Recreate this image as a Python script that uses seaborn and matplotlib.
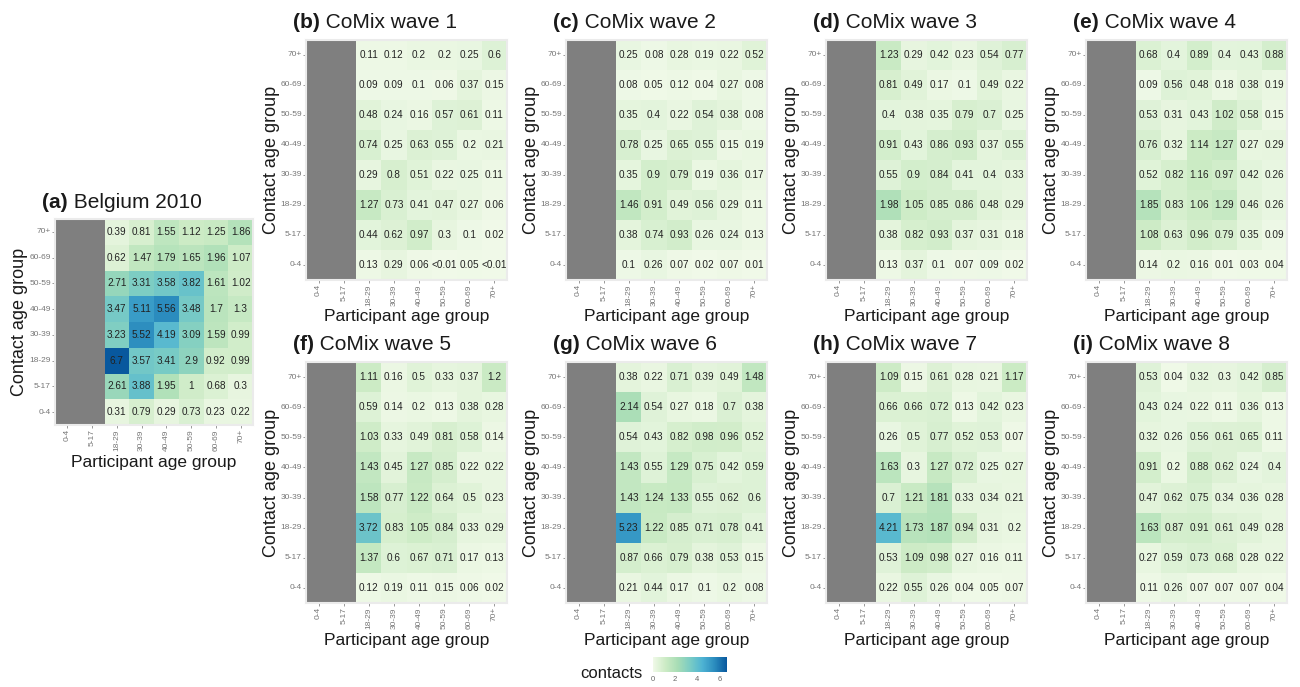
import numpy as np
import pandas as pd
import seaborn as sns
import matplotlib.pyplot as plt
import matplotlib.transforms as mtransforms
from matplotlib.colors import LinearSegmentedColormap

sns.set_theme(style="white")
plt.rcParams['font.family'] = ['Liberation Sans', 'DejaVu Sans']

# age groups (contact rows are listed top to bottom as drawn)
participant_groups = ["0-4", "5-17", "18-29", "30-39", "40-49", "50-59", "60-69", "70+"]
contact_groups = ["70+", "60-69", "50-59", "40-49", "30-39", "18-29", "5-17", "0-4"]

# mean contacts, participant columns 18-29 .. 70+ (0-4 and 5-17 were not surveyed)
# 0.0 stands for the cells shown as "<0.01"
belgium_2010 = [[0.39, 0.81, 1.55, 1.12, 1.25, 1.86],
                [0.62, 1.47, 1.79, 1.65, 1.96, 1.07],
                [2.71, 3.31, 3.58, 3.82, 1.61, 1.02],
                [3.47, 5.11, 5.56, 3.48, 1.7, 1.3],
                [3.23, 5.52, 4.19, 3.09, 1.59, 0.99],
                [6.7, 3.57, 3.41, 2.9, 0.92, 0.99],
                [2.61, 3.88, 1.95, 1, 0.68, 0.3],
                [0.31, 0.79, 0.29, 0.73, 0.23, 0.22]]

wave_1 = [[0.11, 0.12, 0.2, 0.2, 0.25, 0.6],
          [0.09, 0.09, 0.1, 0.06, 0.37, 0.15],
          [0.48, 0.24, 0.16, 0.57, 0.61, 0.11],
          [0.74, 0.25, 0.63, 0.55, 0.2, 0.21],
          [0.29, 0.8, 0.51, 0.22, 0.25, 0.11],
          [1.27, 0.73, 0.41, 0.47, 0.27, 0.06],
          [0.44, 0.62, 0.97, 0.3, 0.1, 0.02],
          [0.13, 0.29, 0.06, 0.0, 0.05, 0.0]]

wave_2 = [[0.25, 0.08, 0.28, 0.19, 0.22, 0.52],
          [0.08, 0.05, 0.12, 0.04, 0.27, 0.08],
          [0.35, 0.4, 0.22, 0.54, 0.38, 0.08],
          [0.78, 0.25, 0.65, 0.55, 0.15, 0.19],
          [0.35, 0.9, 0.79, 0.19, 0.36, 0.17],
          [1.46, 0.91, 0.49, 0.56, 0.29, 0.11],
          [0.38, 0.74, 0.93, 0.26, 0.24, 0.13],
          [0.1, 0.26, 0.07, 0.02, 0.07, 0.01]]

wave_3 = [[1.23, 0.29, 0.42, 0.23, 0.54, 0.77],
          [0.81, 0.49, 0.17, 0.1, 0.49, 0.22],
          [0.4, 0.38, 0.35, 0.79, 0.7, 0.25],
          [0.91, 0.43, 0.86, 0.93, 0.37, 0.55],
          [0.55, 0.9, 0.84, 0.41, 0.4, 0.33],
          [1.98, 1.05, 0.85, 0.86, 0.48, 0.29],
          [0.38, 0.82, 0.93, 0.37, 0.31, 0.18],
          [0.13, 0.37, 0.1, 0.07, 0.09, 0.02]]

wave_4 = [[0.68, 0.4, 0.89, 0.4, 0.43, 0.88],
          [0.09, 0.56, 0.48, 0.18, 0.38, 0.19],
          [0.53, 0.31, 0.43, 1.02, 0.58, 0.15],
          [0.76, 0.32, 1.14, 1.27, 0.27, 0.29],
          [0.52, 0.82, 1.16, 0.97, 0.42, 0.26],
          [1.85, 0.83, 1.06, 1.29, 0.46, 0.26],
          [1.08, 0.63, 0.96, 0.79, 0.35, 0.09],
          [0.14, 0.2, 0.16, 0.01, 0.03, 0.04]]

wave_5 = [[1.11, 0.16, 0.5, 0.33, 0.37, 1.2],
          [0.59, 0.14, 0.2, 0.13, 0.38, 0.28],
          [1.03, 0.33, 0.49, 0.81, 0.58, 0.14],
          [1.43, 0.45, 1.27, 0.85, 0.22, 0.22],
          [1.58, 0.77, 1.22, 0.64, 0.5, 0.23],
          [3.72, 0.83, 1.05, 0.84, 0.33, 0.29],
          [1.37, 0.6, 0.67, 0.71, 0.17, 0.13],
          [0.12, 0.19, 0.11, 0.15, 0.06, 0.02]]

wave_6 = [[0.38, 0.22, 0.71, 0.39, 0.49, 1.48],
          [2.14, 0.54, 0.27, 0.18, 0.7, 0.38],
          [0.54, 0.43, 0.82, 0.98, 0.96, 0.52],
          [1.43, 0.55, 1.29, 0.75, 0.42, 0.59],
          [1.43, 1.24, 1.33, 0.55, 0.62, 0.6],
          [5.23, 1.22, 0.85, 0.71, 0.78, 0.41],
          [0.87, 0.66, 0.79, 0.38, 0.53, 0.15],
          [0.21, 0.44, 0.17, 0.1, 0.2, 0.08]]

wave_7 = [[1.09, 0.15, 0.61, 0.28, 0.21, 1.17],
          [0.66, 0.66, 0.72, 0.13, 0.42, 0.23],
          [0.26, 0.5, 0.77, 0.52, 0.53, 0.07],
          [1.63, 0.3, 1.27, 0.72, 0.25, 0.27],
          [0.7, 1.21, 1.81, 0.33, 0.34, 0.21],
          [4.21, 1.73, 1.87, 0.94, 0.31, 0.2],
          [0.53, 1.09, 0.98, 0.27, 0.16, 0.11],
          [0.22, 0.55, 0.26, 0.04, 0.05, 0.07]]

wave_8 = [[0.53, 0.04, 0.32, 0.3, 0.42, 0.85],
          [0.43, 0.24, 0.22, 0.11, 0.36, 0.13],
          [0.32, 0.26, 0.56, 0.61, 0.65, 0.11],
          [0.91, 0.2, 0.88, 0.62, 0.24, 0.4],
          [0.47, 0.62, 0.75, 0.34, 0.36, 0.28],
          [1.63, 0.87, 0.91, 0.61, 0.49, 0.28],
          [0.27, 0.59, 0.73, 0.68, 0.28, 0.22],
          [0.11, 0.26, 0.07, 0.07, 0.07, 0.04]]

panel_tags = ["(a)", "(b)", "(c)", "(d)", "(e)", "(f)", "(g)", "(h)", "(i)"]
panel_names = ["Belgium 2010", "CoMix wave 1", "CoMix wave 2", "CoMix wave 3",
               "CoMix wave 4", "CoMix wave 5", "CoMix wave 6", "CoMix wave 7",
               "CoMix wave 8"]
panel_data = [belgium_2010, wave_1, wave_2, wave_3, wave_4,
              wave_5, wave_6, wave_7, wave_8]

cbar_ticks = [0, 2, 4, 6]

# GnBu brewer colours, 7 classes
gnbu = LinearSegmentedColormap.from_list(
    "gnbu7", ["#f0f9e8", "#ccebc5", "#a8ddb5", "#7bccc4", "#4eb3d3", "#2b8cbe", "#08589e"])

W, H = 1300, 687
fig = plt.figure(figsize=(13, 6.87), dpi=100)

# panel boxes in pixels: left, top, width, height
boxes = [(55, 219, 198, 206)]
for top, h in [(40, 240), (362, 241)]:
    for left in [306, 566, 826, 1086]:
        boxes.append((left, top, 201, h))


def to_frame(rows):
    vals = np.full((len(contact_groups), len(participant_groups)), np.nan)
    vals[:, 2:] = np.array(rows, dtype=float)
    return pd.DataFrame(vals, index=contact_groups, columns=participant_groups)


def cell_label(v):
    if np.isnan(v):
        return ""
    if v < 0.01:
        return "<0.01"
    return ("%.2f" % v).rstrip("0").rstrip(".")


def px(ax, dx, dy):
    return mtransforms.offset_copy(ax.transAxes, fig, x=dx, y=dy, units="dots")


vmax = max(np.max(d) for d in panel_data)
cax = fig.add_axes([653 / W, 1 - 672 / H, 74 / W, 15 / H])

for i, (rows, box) in enumerate(zip(panel_data, boxes)):
    left, top, w, h = box
    ax = fig.add_axes([left / W, 1 - (top + h) / H, w / W, h / H])
    ax.set_facecolor("#7f7f7f")
    df = to_frame(rows)
    labels = np.vectorize(cell_label)(df.values)
    sns.heatmap(df, ax=ax, cmap=gnbu, vmin=0, vmax=vmax,
                annot=labels, fmt="", annot_kws=dict(size=7.2, color="#222222"),
                cbar=(i == 0), cbar_ax=cax if i == 0 else None,
                cbar_kws=dict(orientation="horizontal", ticks=cbar_ticks))
    ax.tick_params(axis="both", length=2, width=0.6, color="#888888",
                   labelsize=6, labelcolor="#777777", pad=1,
                   left=True, bottom=True)
    ax.set_xticklabels(participant_groups, rotation=90)
    ax.set_yticklabels(contact_groups, rotation=0)
    ax.set_xlabel("")
    ax.set_ylabel("")
    for s in ax.spines.values():
        s.set_visible(True)
        s.set_color("#ebebeb")
        s.set_linewidth(1.5)

    ax.text(0.5, 0, "Participant age group", transform=px(ax, 0, -37),
            ha="center", va="center", fontsize=12.5, color="#1a1a1a")
    ax.text(0, 0.5, "Contact age group", transform=px(ax, -35, 0),
            ha="center", va="center", rotation=90, fontsize=13, color="#1a1a1a")
    tag = ax.text(0, 1, panel_tags[i], transform=px(ax, -13, 17),
                  ha="left", va="center", fontsize=15, fontweight="bold", color="#1a1a1a")
    ax.annotate(" " + panel_names[i], xy=(1, 0), xycoords=tag,
                ha="left", va="bottom", fontsize=15, color="#1a1a1a")

cax.tick_params(length=0, labelsize=5.5, labelcolor="#666666", pad=3)
cax.set_xticklabels([str(t) for t in cbar_ticks])
for s in cax.spines.values():
    s.set_visible(False)
fig.text(611 / W, 1 - 674 / H, "contacts", ha="center", va="center",
         fontsize=12, color="#1a1a1a")

fig.savefig("out.png", dpi=100)
